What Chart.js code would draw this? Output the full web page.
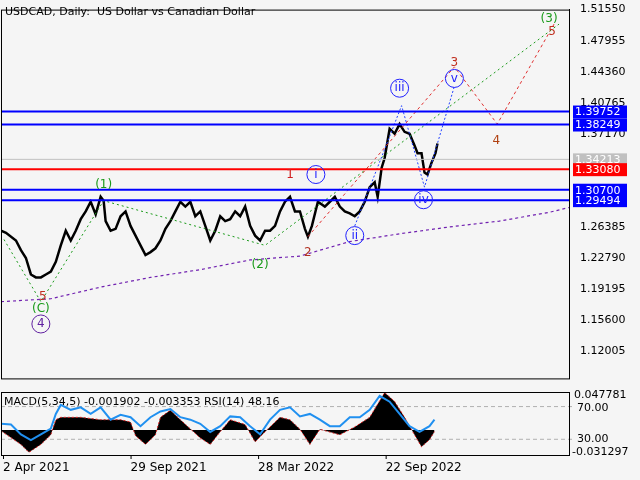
<!DOCTYPE html>
<html><head><meta charset="utf-8">
<script src="https://cdn.jsdelivr.net/npm/chart.js@4.4.0/dist/chart.umd.min.js"></script>
<style>
body{margin:0;background:#f5f5f5;width:640px;height:480px;overflow:hidden}
canvas{display:block}
</style></head><body>
<div style="width:640px;height:388px"><canvas id="main"></canvas></div>
<div style="width:640px;height:92px"><canvas id="ind"></canvas></div>
<script>
// --- datos ---
const priceX = [0,5,15,20,25,30,35,40,45,50,55,60,65,70,75,80,85,90,95,100,103,105,110,115,120,125,130,135,140,145,150,155,160,165,170,175,180,185,190,195,200,205,210,215,220,225,230,235,240,245,250,255,260,265,270,275,280,285,290,295,300,305,308,312,318,325,330,335,340,345,350,355,360,365,370,375,378,382,385,390,395,400,405,410,415,418,422,425,428,432,436,438];
const priceY = [1.2595,1.2572,1.2482,1.2370,1.2280,1.2089,1.2055,1.2055,1.2089,1.2123,1.2235,1.2426,1.2595,1.2482,1.2595,1.2729,1.2819,1.2931,1.2785,1.2988,1.2943,1.2707,1.2595,1.2617,1.2763,1.2819,1.2651,1.2538,1.2426,1.2314,1.2348,1.2392,1.2482,1.2617,1.2707,1.2819,1.2931,1.2875,1.2931,1.2763,1.2819,1.2651,1.2482,1.2595,1.2763,1.2707,1.2729,1.2819,1.2763,1.2875,1.2651,1.2538,1.2482,1.2595,1.2595,1.2651,1.2819,1.2931,1.2988,1.2819,1.2819,1.2617,1.2527,1.2651,1.2931,1.2875,1.2931,1.2988,1.2875,1.2819,1.2797,1.2763,1.2819,1.2931,1.3100,1.3156,1.2988,1.3325,1.3437,1.3774,1.3718,1.3830,1.3740,1.3718,1.3583,1.3493,1.3493,1.3268,1.3246,1.3381,1.3493,1.3605];
const maX = [0,50,100,150,200,250,300,350,400,450,500,550,570];
const maY = [1.1774,1.1808,1.1943,1.2055,1.2145,1.2257,1.2302,1.2470,1.2560,1.2639,1.2707,1.2808,1.2864];
const greenWave = [[3,1.2494],[40,1.1774],[103,1.2943],[265,1.2426],[560,1.4987]];
const redWave = [[308,1.2527],[455,1.4492],[498,1.3830],[555,1.4987]];
const blueWave = [[355,1.2651],[402,1.4043],[425,1.3100],[455,1.4268]];
const levels = [1.39752,1.38249,1.33080,1.30700,1.29494];
const levelColors = ['#0000ff','#0000ff','#ff0000','#0000ff','#0000ff'];
const lastPrice = 1.34213;
const priceTicks = [1.51550,1.47955,1.44360,1.40765,1.37170,1.26385,1.22790,1.19195,1.15600,1.12005];
const waveLabels = [
  ['(1)',103,1.3122,'#1a9a1a',false],['1',290,1.3246,'#d02020',false],
  ['(2)',260,1.2202,'#1a9a1a',false],['2',308,1.2336,'#b03020',false],
  ['i',316,1.3246,'#2020ff',true],['ii',355,1.2539,'#2020ff',true],
  ['iii',400,1.4245,'#2020ff',true],['iv',424,1.2954,'#2020ff',true],
  ['v',455,1.4358,'#2020ff',true],['3',455,1.4537,'#c03020',false],
  ['4',497,1.3639,'#b04010',false],['5',553,1.4897,'#c03020',false],
  ['(3)',550,1.5043,'#1a9a1a',false],['5',42,1.1831,'#c03020',false],
  ['(C)',40,1.1685,'#1a9a1a',false],['4',40,1.1516,'#6020a0',true]
];
const histX = [0,20,28,40,50,55,60,80,100,120,130,135,145,155,160,170,180,200,210,220,230,245,255,265,280,290,300,310,320,340,355,370,385,395,405,415,422,430,435];
const histY = [-0.001,-0.018,-0.028,-0.018,-0.006,0.013,0.016,0.016,0.013,0.013,0.010,-0.007,-0.018,-0.006,0.016,0.025,0.013,-0.010,-0.018,-0.002,0.013,0.007,-0.015,-0.002,0.016,0.013,0.001,-0.018,0.001,-0.006,0.004,0.016,0.047,0.036,0.016,-0.006,-0.021,-0.012,-0.002];
const rsiX = [0,10,20,30,40,50,55,60,70,80,90,100,110,120,130,140,150,160,170,180,190,200,210,220,230,240,250,260,270,280,290,300,310,320,330,340,350,360,370,380,390,400,410,420,430,435];
const rsiY = [49,48,36,29,36,43,61,72,66,69,61,69,54,60,57,46,57,64,67,57,54,49,39,46,58,57,46,36,54,66,69,58,61,54,46,46,57,57,66,83,76,61,46,39,46,54];
const dateLabels = ['2 Apr 2021','29 Sep 2021','28 Mar 2022','22 Sep 2022'];
const dateX = [2,130,258,386];

const FONT = '"DejaVu Sans", sans-serif';
const pts = (xs, ys) => xs.map((x, i) => ({x, y: ys[i]}));
const pairs = arr => arr.map(p => ({x: p[0], y: p[1]}));

const mainDatasets = [];
levels.forEach((lv, i) => mainDatasets.push({data: [{x:0,y:lv},{x:570,y:lv}], borderColor: levelColors[i], borderWidth: 2, pointRadius: 0}));
mainDatasets.push({data: [{x:0,y:lastPrice},{x:570,y:lastPrice}], borderColor: '#c0c0c0', borderWidth: 1, pointRadius: 0});
mainDatasets.push({data: pts(maX, maY), borderColor: '#7020b0', borderWidth: 1.2, borderDash: [3,3], pointRadius: 0});
mainDatasets.push({data: pairs(greenWave), borderColor: '#1a9a1a', borderWidth: 1, borderDash: [2,3], pointRadius: 0});
mainDatasets.push({data: pairs(redWave), borderColor: '#e03030', borderWidth: 1, borderDash: [3,3], pointRadius: 0});
mainDatasets.push({data: pairs(blueWave), borderColor: '#2040ff', borderWidth: 1, borderDash: [2,2], pointRadius: 0});
mainDatasets.push({data: pts(priceX, priceY), borderColor: '#000', borderWidth: 2.5, pointRadius: 0});

const frame = {
  id: 'frame',
  afterDraw(chart) {
    const {ctx, chartArea: a} = chart;
    ctx.save();
    ctx.strokeStyle = '#000'; ctx.lineWidth = 1;
    ctx.strokeRect(a.left + 0.5, a.top + 0.5, a.right - a.left, a.bottom - a.top);
    ctx.restore();
  }
};

const mainDecor = {
  id: 'mainDecor',
  afterDraw(chart) {
    const {ctx, scales: {x, y}} = chart;
    ctx.save();
    ctx.font = '12px ' + FONT;
    ctx.textAlign = 'center'; ctx.textBaseline = 'middle';
    waveLabels.forEach(([t, vx, vy, c, circ]) => {
      const px = x.getPixelForValue(vx), py = y.getPixelForValue(vy);
      if (circ) {
        ctx.strokeStyle = c; ctx.lineWidth = 1;
        ctx.beginPath(); ctx.arc(px, py, 9, 0, Math.PI * 2); ctx.stroke();
      }
      ctx.fillStyle = c;
      ctx.fillText(t, px, py);
    });
    // cajas de niveles en el eje
    ctx.font = '11px ' + FONT; ctx.textAlign = 'left';
    const boxes = [[lastPrice, '#c0c0c0']].concat(levels.map((l, i) => [l, levelColors[i]]));
    boxes.forEach(([v, c]) => {
      const py = y.getPixelForValue(v);
      ctx.fillStyle = c; ctx.fillRect(573, py - 6, 54, 13);
      ctx.fillStyle = '#fff'; ctx.fillText(v.toFixed(5), 575, py + 1);
    });
    ctx.fillStyle = '#000'; ctx.font = '11px ' + FONT;
    ctx.fillText('USDCAD, Daily:  US Dollar vs Canadian Dollar', 5, 12);
    ctx.restore();
  }
};

new Chart(document.getElementById('main'), {
  type: 'line',
  data: {datasets: mainDatasets},
  options: {
    responsive: true, maintainAspectRatio: false, animation: false,
    layout: {padding: {top: 2, left: 1}},
    plugins: {legend: {display: false}, tooltip: {enabled: false}},
    scales: {
      x: {type: 'linear', min: 0, max: 570, display: false},
      y: {
        position: 'right', min: 1.0886, max: 1.5155,
        afterBuildTicks: s => { s.ticks = priceTicks.map(v => ({value: v})); },
        afterFit: s => { s.width = 71; },
        grid: {display: false, drawTicks: true},
        border: {color: '#000'},
        ticks: {color: '#000', font: {family: FONT, size: 11}, padding: 3, callback: v => v.toFixed(5)}
      }
    }
  },
  plugins: [frame, mainDecor]
});

const indDecor = {
  id: 'indDecor',
  beforeDatasetsDraw(chart) {
    const {ctx, chartArea: a, scales: {yRsi}} = chart;
    ctx.save();
    ctx.strokeStyle = '#b0b0b0'; ctx.setLineDash([4,3]);
    [70, 30].forEach(v => {
      const py = yRsi.getPixelForValue(v);
      ctx.beginPath(); ctx.moveTo(a.left, py); ctx.lineTo(a.right + 4, py); ctx.stroke();
    });
    ctx.restore();
  },
  afterDraw(chart) {
    const {ctx, chartArea: a, scales: {x, yRsi}} = chart;
    ctx.save();
    ctx.fillStyle = '#000'; ctx.font = '11px ' + FONT;
    ctx.textBaseline = 'middle';
    ctx.fillText('MACD(5,34,5) -0.001902 -0.003353 RSI(14) 48.16', 4, a.top + 10);
    ctx.fillText('0.047781', a.right + 5, a.top + 3);
    ctx.fillText('-0.031297', a.right + 3, a.bottom - 3);
    ctx.fillText('70.00', a.right + 8, yRsi.getPixelForValue(70) + 2);
    ctx.fillText('30.00', a.right + 8, yRsi.getPixelForValue(30));
    ctx.font = '12px ' + FONT; ctx.textBaseline = 'top';
    dateLabels.forEach((t, i) => {
      const px = x.getPixelForValue(dateX[i]);
      ctx.fillRect(px, a.bottom, 1, 4);
      ctx.fillText(t, px, a.bottom + 7);
    });
    ctx.restore();
  }
};

new Chart(document.getElementById('ind'), {
  type: 'line',
  data: {datasets: [
    {data: pts(rsiX, rsiY), yAxisID: 'yRsi', borderColor: '#2090f0', borderWidth: 2, pointRadius: 0, fill: false, order: 0},
    {data: pts(histX, histY), yAxisID: 'yMacd', borderColor: '#e02020', borderWidth: 1, borderDash: [2,2], backgroundColor: '#000', fill: 'origin', pointRadius: 0, order: 1}
  ]},
  options: {
    responsive: true, maintainAspectRatio: false, animation: false,
    layout: {padding: {top: 4, bottom: 25, left: 1, right: 71}},
    plugins: {legend: {display: false}, tooltip: {enabled: false}},
    scales: {
      x: {type: 'linear', min: 0, max: 570, display: false},
      yMacd: {type: 'linear', axis: 'y', min: -0.031297, max: 0.047781, display: false},
      yRsi: {type: 'linear', axis: 'y', min: 10.8, max: 87.8, display: false}
    }
  },
  plugins: [frame, indDecor]
});
</script>
</body></html>
